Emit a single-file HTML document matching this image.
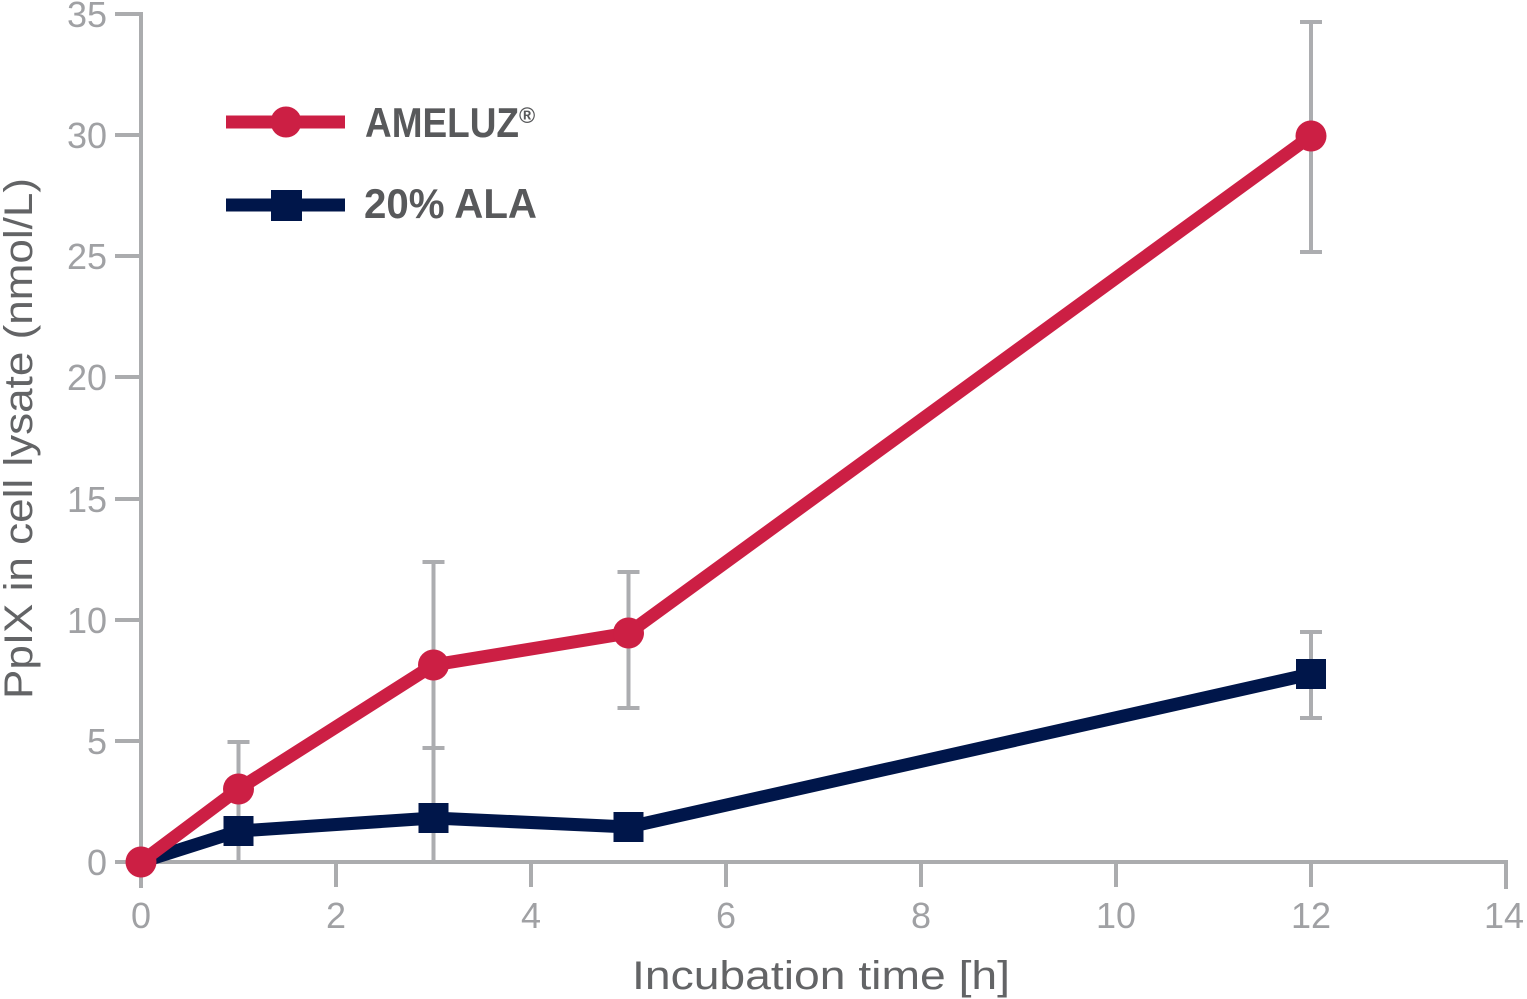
<!DOCTYPE html>
<html>
<head>
<meta charset="utf-8">
<style>
html,body{margin:0;padding:0;background:#fff;}
svg{display:block;}
text{font-family:"Liberation Sans",sans-serif;}
</style>
</head>
<body>
<svg width="1527" height="999" viewBox="0 0 1527 999" xmlns="http://www.w3.org/2000/svg">
  <!-- axes -->
  <g stroke="#abacae" stroke-width="4" fill="none">
    <line x1="141" y1="12" x2="141" y2="888"/>
    <line x1="115" y1="862" x2="1508" y2="862"/>
    <!-- y ticks -->
    <line x1="115" y1="14" x2="141" y2="14"/>
    <line x1="115" y1="135" x2="141" y2="135"/>
    <line x1="115" y1="256" x2="141" y2="256"/>
    <line x1="115" y1="377" x2="141" y2="377"/>
    <line x1="115" y1="499" x2="141" y2="499"/>
    <line x1="115" y1="620" x2="141" y2="620"/>
    <line x1="115" y1="741" x2="141" y2="741"/>
    <!-- x ticks -->
    <line x1="336" y1="862" x2="336" y2="887"/>
    <line x1="531" y1="862" x2="531" y2="887"/>
    <line x1="726" y1="862" x2="726" y2="887"/>
    <line x1="921" y1="862" x2="921" y2="887"/>
    <line x1="1116" y1="862" x2="1116" y2="887"/>
    <line x1="1311" y1="862" x2="1311" y2="887"/>
    <line x1="1506" y1="860" x2="1506" y2="889"/>
  </g>

  <!-- y tick labels -->
  <g fill="#a0a1a4" font-size="36" text-anchor="end">
    <text x="107" y="27">35</text>
    <text x="107" y="148">30</text>
    <text x="107" y="269">25</text>
    <text x="107" y="390">20</text>
    <text x="107" y="512">15</text>
    <text x="107" y="633">10</text>
    <text x="107" y="754">5</text>
    <text x="107" y="875">0</text>
  </g>

  <!-- x tick labels -->
  <g fill="#a0a1a4" font-size="36" text-anchor="middle">
    <text x="141" y="928">0</text>
    <text x="336" y="928">2</text>
    <text x="531" y="928">4</text>
    <text x="726" y="928">6</text>
    <text x="921" y="928">8</text>
    <text x="1116" y="928">10</text>
    <text x="1311" y="928">12</text>
    <text x="1504" y="928">14</text>
  </g>

  <!-- axis titles -->
  <text x="632" y="989" font-size="40" fill="#636466" textLength="378" lengthAdjust="spacingAndGlyphs">Incubation time [h]</text>
  <text transform="translate(32,699) rotate(-90)" x="0" y="0" font-size="40" fill="#636466" textLength="521" lengthAdjust="spacingAndGlyphs">PpIX in cell lysate (nmol/L)</text>

  <!-- error bars -->
  <g stroke="#acadb0" stroke-width="4" fill="none">
    <line x1="238.5" y1="742" x2="238.5" y2="862"/>
    <line x1="227.5" y1="742" x2="249.5" y2="742"/>

    <line x1="433.5" y1="562" x2="433.5" y2="862"/>
    <line x1="422.5" y1="562" x2="444.5" y2="562"/>
    <line x1="422.5" y1="748" x2="444.5" y2="748"/>

    <line x1="628.5" y1="572" x2="628.5" y2="708"/>
    <line x1="617.5" y1="572" x2="639.5" y2="572"/>
    <line x1="617.5" y1="708" x2="639.5" y2="708"/>

    <line x1="1311" y1="22" x2="1311" y2="252"/>
    <line x1="1300" y1="22" x2="1322" y2="22"/>
    <line x1="1300" y1="252" x2="1322" y2="252"/>

    <line x1="1311" y1="632" x2="1311" y2="718"/>
    <line x1="1300" y1="632" x2="1322" y2="632"/>
    <line x1="1300" y1="718" x2="1322" y2="718"/>
  </g>

  <!-- 20% ALA series -->
  <polyline points="141,862 238.5,831 433.5,818 628.5,827 1311,674" fill="none" stroke="#00164a" stroke-width="13" stroke-linejoin="miter"/>
  <g fill="#00164a">
    <rect x="223.5" y="816" width="30" height="30"/>
    <rect x="418.5" y="803" width="30" height="30"/>
    <rect x="613.5" y="812" width="30" height="30"/>
    <rect x="1296" y="659" width="30" height="30"/>
  </g>

  <!-- AMELUZ series -->
  <polyline points="141,862 238.5,789 433.5,665 628.5,633 1311,136" fill="none" stroke="#cc1f44" stroke-width="13" stroke-linejoin="miter"/>
  <g fill="#cc1f44">
    <circle cx="141" cy="862" r="15.5"/>
    <circle cx="238.5" cy="789" r="15.5"/>
    <circle cx="433.5" cy="665" r="15.5"/>
    <circle cx="628.5" cy="633" r="15.5"/>
    <circle cx="1311" cy="136" r="15.5"/>
  </g>

  <!-- legend -->
  <line x1="226" y1="122" x2="345" y2="122" stroke="#cc1f44" stroke-width="13"/>
  <circle cx="286" cy="122" r="15.5" fill="#cc1f44"/>
  <line x1="226" y1="205" x2="345" y2="205" stroke="#00164a" stroke-width="13"/>
  <rect x="271" y="190" width="31" height="31" fill="#00164a"/>

  <text x="365" y="137" font-size="42" font-weight="bold" fill="#58595b" textLength="154" lengthAdjust="spacingAndGlyphs">AMELUZ</text>
  <text x="519" y="123" font-size="22" font-weight="bold" fill="#58595b">®</text>
  <text x="364" y="218" font-size="42" font-weight="bold" fill="#58595b" textLength="173" lengthAdjust="spacingAndGlyphs">20% ALA</text>
</svg>
</body>
</html>
